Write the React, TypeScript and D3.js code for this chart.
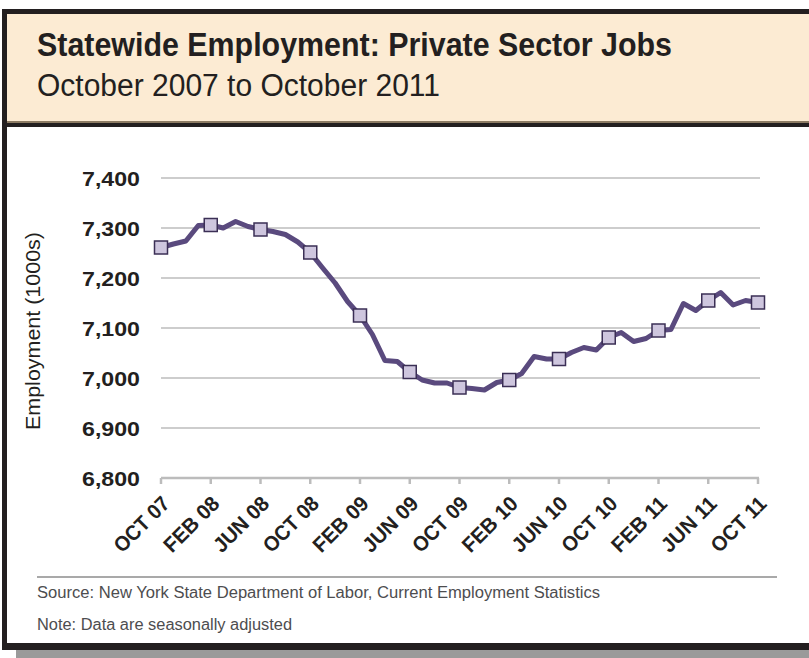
import React from "react";
import * as d3 from "d3";

const months: string[] = [
  "Oct 07","Nov 07","Dec 07","Jan 08","Feb 08","Mar 08","Apr 08","May 08","Jun 08","Jul 08","Aug 08","Sep 08",
  "Oct 08","Nov 08","Dec 08","Jan 09","Feb 09","Mar 09","Apr 09","May 09","Jun 09","Jul 09","Aug 09","Sep 09",
  "Oct 09","Nov 09","Dec 09","Jan 10","Feb 10","Mar 10","Apr 10","May 10","Jun 10","Jul 10","Aug 10","Sep 10",
  "Oct 10","Nov 10","Dec 10","Jan 11","Feb 11","Mar 11","Apr 11","May 11","Jun 11","Jul 11","Aug 11","Sep 11",
  "Oct 11",
];

const employment: number[] = [
  7261, 7268, 7274, 7305, 7306, 7300, 7313, 7303, 7297, 7293, 7287, 7272,
  7251, 7220, 7190, 7153, 7125, 7087, 7035, 7033, 7012, 6996, 6990, 6990,
  6981, 6979, 6976, 6991, 6996, 7009, 7043, 7038, 7038, 7051, 7061, 7056,
  7081, 7091, 7073, 7079, 7095, 7097, 7149, 7135, 7155, 7171, 7146, 7155,
  7151,
];

const tickMonths: string[] = [
  "Oct 07","Feb 08","Jun 08","Oct 08","Feb 09","Jun 09","Oct 09","Feb 10","Jun 10","Oct 10","Feb 11","Jun 11","Oct 11",
];
const tickLabels: string[] = [
  "OCT 07","FEB 08","JUN 08","OCT 08","FEB 09","JUN 09","OCT 09","FEB 10","JUN 10","OCT 10","FEB 11","JUN 11","OCT 11",
];
const yTicks: number[] = [6800, 6900, 7000, 7100, 7200, 7300, 7400];

const title = "Statewide Employment: Private Sector Jobs";
const subtitle = "October 2007 to October 2011";
const yTitle = "Employment (1000s)";
const source = "Source: New York State Department of Labor, Current Employment Statistics";
const note = "Note: Data are seasonally adjusted";

const FONT = "'Liberation Sans', Arial, Helvetica, sans-serif";

export default function App() {
  const W = 809, H = 658;
  const x = d3.scalePoint<string>().domain(months).range([161, 758]);
  const y = d3.scaleLinear().domain([6800, 7400]).range([478, 178]);
  const line = d3.line<number>()
    .x((_, i) => x(months[i]) as number)
    .y((d) => y(d));
  const fmt = d3.format(",");
  const dark = "#231F20";
  const lblLen = (s: string) => (s.replace(/ /g, "").length) * 12.8 + 5;

  return (
    <svg width={W} height={H} style={{ position: "absolute", left: 0, top: 0 }} fontFamily={FONT}>
      <rect x={0} y={0} width={W} height={H} fill="#fff" />
      {/* shadow */}
      <rect x={16} y={650} width={W} height={8} fill="#9a9a9a" />
      {/* header */}
      <rect x={2} y={9} width={W} height={118} fill="#FCEBD3" />
      <rect x={2} y={9} width={W} height={5} fill={dark} />
      <rect x={2} y={121} width={W} height={2} fill="#8C7B63" />
      <rect x={2} y={123} width={W} height={4} fill={dark} />
      {/* box borders */}
      <rect x={2} y={9} width={5} height={641} fill={dark} />
      <rect x={2} y={643} width={W} height={7} fill={dark} />

      <text x={37} y={56} fontSize={33} fontWeight="bold" fill={dark} textLength={635} lengthAdjust="spacingAndGlyphs">{title}</text>
      <text x={37} y={96} fontSize={31} fill={dark} textLength={403} lengthAdjust="spacingAndGlyphs">{subtitle}</text>

      {/* gridlines */}
      {yTicks.filter((t) => t !== 6800).map((t) => (
        <line key={t} x1={161} x2={760} y1={y(t)} y2={y(t)} stroke="#BCBCBC" strokeWidth={1.5} />
      ))}
      {/* x axis */}
      <line x1={161} x2={759} y1={y(6800)} y2={y(6800)} stroke="#BCBCBC" strokeWidth={2.5} />
      {tickMonths.map((m) => (
        <line key={m} x1={x(m)} x2={x(m)} y1={y(6800)} y2={y(6800) + 6} stroke="#BCBCBC" strokeWidth={2.5} />
      ))}

      {/* y tick labels */}
      {yTicks.map((t) => (
        <text key={t} x={140} y={y(t)} dy="0.36em" textAnchor="end" fontSize={21} fontWeight="bold" fill={dark}
          textLength={58} lengthAdjust="spacingAndGlyphs">
          {fmt(t)}
        </text>
      ))}
      <text transform={`translate(40,${331}) rotate(-90)`} textAnchor="middle" fontSize={20} fill={dark}
        textLength={198} lengthAdjust="spacingAndGlyphs">
        {yTitle}
      </text>

      {/* x tick labels */}
      {tickMonths.map((m, i) => (
        <text key={m} transform={`translate(${(x(m) as number) + 10},${505}) rotate(-45)`} textAnchor="end"
          fontSize={21} fontWeight="bold" fill={dark} textLength={lblLen(tickLabels[i])} lengthAdjust="spacingAndGlyphs">
          {tickLabels[i]}
        </text>
      ))}

      {/* data line */}
      <path d={line(employment) || ""} fill="none" stroke="#5A4A7E" strokeWidth={5} strokeLinejoin="round" />
      {tickMonths.map((m) => {
        const i = months.indexOf(m);
        return (
          <rect key={m} x={(x(m) as number) - 6.5} y={y(employment[i]) - 6.5} width={13} height={13}
            fill="#CEC6DE" stroke="#3B2F55" strokeWidth={1.5} />
        );
      })}

      {/* footer */}
      <line x1={37} x2={777} y1={577} y2={577} stroke="#555" strokeWidth={1.2} />
      <text x={37} y={598} fontSize={16} fill="#4D4D4F" textLength={563} lengthAdjust="spacingAndGlyphs">{source}</text>
      <text x={37} y={630} fontSize={16} fill="#4D4D4F" textLength={255} lengthAdjust="spacingAndGlyphs">{note}</text>
    </svg>
  );
}
